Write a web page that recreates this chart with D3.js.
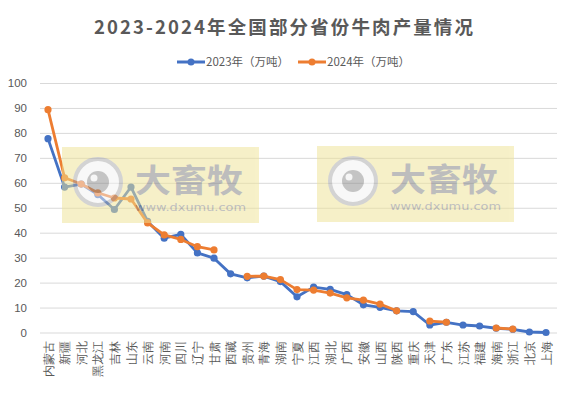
<!DOCTYPE html>
<html>
<head>
<meta charset="utf-8">
<script src="https://cdn.jsdelivr.net/npm/d3@7"></script>
<style>
  body { margin: 0; background: #fff; }
  svg { display: block; font-family: "Noto Sans CJK SC", "Noto Sans", sans-serif; }
</style>
</head>
<body>
<script>
// data (万吨); null = no value for that year
var provinces = ["内蒙古","新疆","河北","黑龙江","吉林","山东","云南","河南","四川","辽宁","甘肃","西藏","贵州","青海","湖南","宁夏","江西","湖北","广西","安徽","山西","陕西","重庆","天津","广东","江苏","福建","海南","浙江","北京","上海"];
var values2023 = [77.7,58.3,59.5,55.3,49.3,58.3,44.5,37.8,39.3,31.9,29.8,23.5,21.9,22.6,20.4,14.3,18.2,17.3,15.2,11.1,10.1,8.7,8.4,3.0,4.1,3.0,2.6,1.7,1.3,0.2,0.0];
var values2024 = [89.3,62.0,59.5,56.0,53.9,53.5,43.9,39.1,37.3,34.4,33.1,null,22.5,22.6,21.2,17.2,17.0,15.8,13.9,13.0,11.4,8.7,null,4.6,4.1,null,null,1.8,1.4,null,null];
var yTicks = [0,10,20,30,40,50,60,70,80,90,100];
var seriesNames = ["2023年（万吨）","2024年（万吨）"];
var colors = ["#4472C4","#ED7D31"];

var width = 577, height = 398;
var svg = d3.select("body").append("svg")
  .attr("width", width)
  .attr("height", height);

var x = d3.scalePoint().domain(provinces).range([48, 546]);
var y = d3.scaleLinear().domain([0, 100]).range([332.5, 83]);

// title
svg.append("text")
  .attr("x", 283.5).attr("y", 34)
  .attr("text-anchor", "middle")
  .attr("font-size", 18.5).attr("font-weight", "bold")
  .attr("fill", "#595959")
  .attr("textLength", 379).attr("lengthAdjust", "spacing")
  .text("2023-2024年全国部分省份牛肉产量情况");

// legend
var legend = svg.append("g");
var legendX = [177, 298];
seriesNames.forEach(function(name, i) {
  var g = legend.append("g").attr("transform", "translate(" + legendX[i] + ",62)");
  g.append("line").attr("x1", 0).attr("x2", 28)
    .attr("stroke", colors[i]).attr("stroke-width", 3);
  g.append("circle").attr("cx", 14).attr("r", 3.5).attr("fill", colors[i]);
  g.append("text").attr("x", 29).attr("dy", "0.35em")
    .attr("font-size", 11.5).attr("fill", "#595959")
    .text(name);
});

// gridlines + y labels
var yAxis = d3.axisLeft(y).tickValues(yTicks).tickSize(-(557 - 40)).tickPadding(13);
var gy = svg.append("g").attr("transform", "translate(40,0)").call(yAxis);
gy.select(".domain").remove();
gy.selectAll(".tick line").attr("stroke", "#d9d9d9").attr("stroke-width", 1);
gy.selectAll(".tick text")
  .attr("font-size", 11.5).attr("fill", "#595959")
  .attr("font-family", "Liberation Sans, Arial, sans-serif");

// x labels, rotated -90
var xAxis = d3.axisBottom(x).tickSize(0).tickPadding(0);
var gx = svg.append("g").attr("transform", "translate(0,332.5)").call(xAxis);
gx.select(".domain").remove();
gx.selectAll(".tick text")
  .attr("transform", "translate(0,8) rotate(-90)")
  .attr("text-anchor", "end")
  .attr("x", 0).attr("y", 0).attr("dy", "0.36em")
  .attr("font-size", 11.5).attr("fill", "#595959");

// lines
var line = d3.line()
  .defined(function(d) { return d != null; })
  .x(function(d, i) { return x(provinces[i]); })
  .y(function(d) { return y(d); });

[values2023, values2024].forEach(function(vals, s) {
  svg.append("path")
    .datum(vals)
    .attr("fill", "none")
    .attr("stroke", colors[s])
    .attr("stroke-width", 2.8)
    .attr("stroke-linejoin", "round")
    .attr("d", line);
  svg.append("g").selectAll("circle")
    .data(vals.map(function(v, i) { return { v: v, i: i }; }).filter(function(d) { return d.v != null; }))
    .join("circle")
    .attr("cx", function(d) { return x(provinces[d.i]); })
    .attr("cy", function(d) { return y(d.v); })
    .attr("r", 3.6)
    .attr("fill", colors[s]);
});

// watermarks on top, semi-transparent
var marks = [[62, 147], [317, 146]];
marks.forEach(function(p) {
  var w = svg.append("g").attr("transform", "translate(" + p[0] + "," + p[1] + ")")
    .attr("opacity", 0.5);
  w.append("rect").attr("width", 197).attr("height", 76).attr("fill", "#EFE393");
  w.append("circle").attr("cx", 36).attr("cy", 35).attr("r", 23)
    .attr("fill", "#f2f2f2")
    .attr("stroke", "#a8a8a8").attr("stroke-width", 4);
  w.append("circle").attr("cx", 36).attr("cy", 35).attr("r", 11).attr("fill", "#8a8a8a");
  w.append("circle").attr("cx", 32).attr("cy", 31).attr("r", 3.5).attr("fill", "#eeeeee");
  w.append("text").attr("x", 73).attr("y", 45)
    .attr("font-size", 32).attr("font-weight", "bold")
    .attr("fill", "#7d7d7d")
    .attr("textLength", 108).attr("lengthAdjust", "spacingAndGlyphs")
    .text("大畜牧");
  w.append("text").attr("x", 73).attr("y", 64)
    .attr("font-size", 11).attr("fill", "#808080")
    .attr("font-family", "DejaVu Sans, sans-serif")
    .attr("textLength", 111).attr("lengthAdjust", "spacingAndGlyphs")
    .text("www.dxumu.com");
});
</script>
</body>
</html>
